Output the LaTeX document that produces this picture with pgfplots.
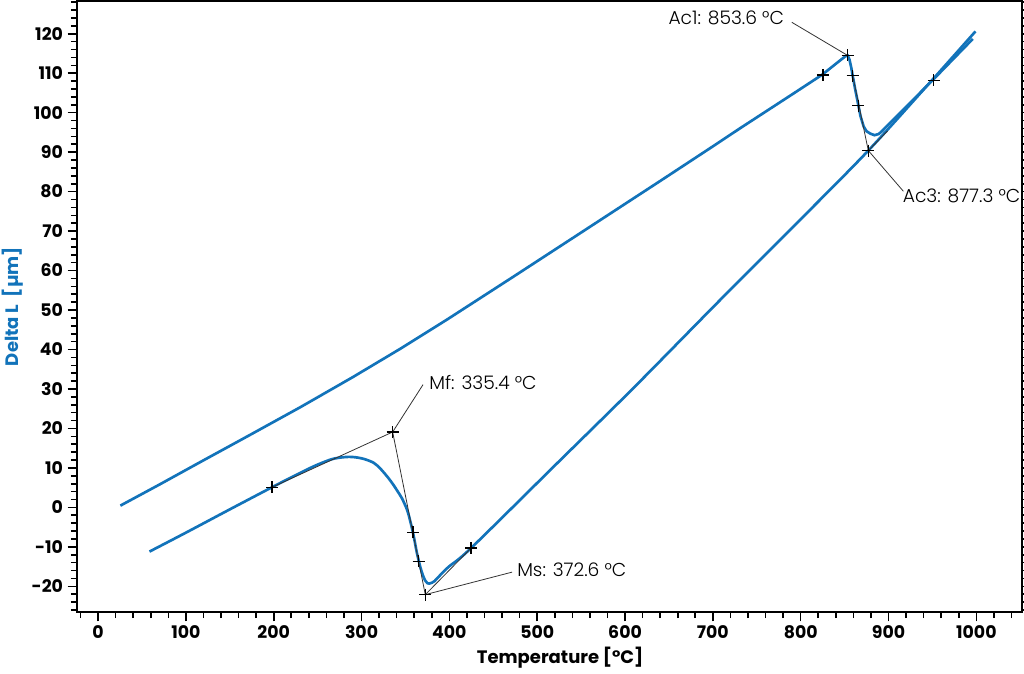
\documentclass[border=0pt]{standalone}
\usepackage{fontspec}
\setmainfont{Poppins}
\newfontfamily\lightfont{Poppins Light}
\usepackage{pgfplots}
\pgfplotsset{compat=1.18}
\definecolor{dilblue}{RGB}{18,115,186}

\begin{document}
\begin{tikzpicture}
\useasboundingbox (0,0) rectangle (768pt,505.5pt);
\begin{axis}[
  at={(57.75pt,46.5pt)}, anchor=south west,
  scale only axis, width=708.75pt, height=458.25pt,
  xmin=-24, xmax=1052, ymin=-26.5, ymax=128.3,
  xtick={0,100,...,1000}, ytick={-20,-10,...,120},
  minor xtick={-20,0,...,1040}, minor ytick={-26,-24,...,128},
  tick align=outside, major tick length=7pt, minor tick length=4.5pt,
  tick style={line width=1.2pt, black},
  axis line style={line width=1.6pt},
  /pgf/number format/assume math mode=true,
  /pgf/number format/1000 sep={},
  ticklabel style={font=\bfseries\fontsize{13}{15}\selectfont},
  xlabel={Temperature [°C]},
  ylabel={Delta L\ \ [µm]},
  xlabel style={font=\bfseries\fontsize{13.5}{15}\selectfont, at={(axis description cs:0.5,0)}, anchor=center, yshift=-34.5pt, xshift=8pt},
  ylabel style={font=\bfseries\fontsize{13.5}{15}\selectfont, text=dilblue, at={(axis description cs:0,0.5)}, anchor=center, yshift=48.5pt},
  clip=false,
]
% heating
\addplot[dilblue, line width=2pt] coordinates {
(25.4,0.45) (70,5.8) (116.5,11.5) (170,18.0) (230.4,25.4) (290,33.0)
(344.2,40.2) (397.4,47.6) (473.2,58.5) (549.1,69.5) (642.1,83.0) (700.9,91.6)
(731.3,96.1) (790,104.6) (824.3,109.6) (845.2,113.3) (851,114.3) (853.5,114.5)
(855.5,113.5) (857.5,111.5) (859.2,109.4) (862,106) (865.8,101.8) (868,99.2)
(871.7,96.5) (875,95.3) (879.3,94.7) (884,94.3) (888.8,94.6) (892,95.2)
(951.4,108.5) (996,118.7)
};
% cooling
\addplot[dilblue, line width=2pt, smooth, tension=0.5] coordinates {
(999,120.6) (951.4,108.7) (877,90.4) (800,73.0) (708.5,52.6) (609.8,30.3)
(520,10.6) (424.7,-10.3) (400,-14.9) (392,-16.6) (386,-18.0) (383,-18.7)
(380,-19.1) (377,-19.3) (375,-19.2) (372.7,-18.6) (370,-17.3) (367,-15.2)
(363,-11.5) (359.4,-7.3) (355.5,-3.5) (351.8,-0.6) (346,2.3) (340.4,4.3)
(336,5.8) (330,7.6) (321.5,9.8) (313.8,11.3) (302.4,12.3) (293,12.7)
(285.3,12.8) (275,12.6) (264.5,12.1) (245.5,10.4) (220,7.6) (198,5.1)
(150,-0.5) (100,-6.4) (58.5,-11.2)
};
% construction lines
\addplot[black!80, line width=0.6pt] coordinates {(198.1,5.1) (335.4,19.1) (372.6,-22.1) (424.7,-10.3)};
\addplot[black!80, line width=0.6pt] coordinates {(335.4,19.1) (370,31.1)};
\addplot[black!80, line width=0.6pt] coordinates {(372.6,-22.1) (471.4,-16.4)};
\addplot[black!80, line width=0.6pt] coordinates {(859.2,109.4) (877,90.4) (899,95.4)};
\addplot[black!80, line width=0.6pt] coordinates {(877,90.4) (916.9,80.1)};
\addplot[black!80, line width=0.6pt] coordinates {(853.5,114.5) (789.9,122.9)};
% markers
\addplot[only marks, mark=+, mark size=4.5pt, line width=1.1pt, black] coordinates {
(198.1,5.1) (335.4,19.1) (358.6,-6.3) (365.1,-13.7) (372.6,-22.1) (424.7,-10.3)
(825.4,109.6) (853.5,114.5) (859.2,109.4) (865.8,101.8) (877,90.4) (951.4,108.2)
};
\node[anchor=west, inner sep=0pt, font=\lightfont\fontsize{14}{16}\selectfont] at (axis cs:377,31.7) {Mf: 335.4 °C};
\node[anchor=west, inner sep=0pt, font=\lightfont\fontsize{14}{16}\selectfont] at (axis cs:477,-15.9) {Ms: 372.6 °C};
\node[anchor=east, inner sep=0pt, font=\lightfont\fontsize{14}{16}\selectfont] at (axis cs:781.3,124.0) {Ac1: 853.6 °C};
\node[anchor=west, inner sep=0pt, font=\lightfont\fontsize{14}{16}\selectfont] at (axis cs:916,78.8) {Ac3: 877.3 °C};
\end{axis}
\end{tikzpicture}
\end{document}
